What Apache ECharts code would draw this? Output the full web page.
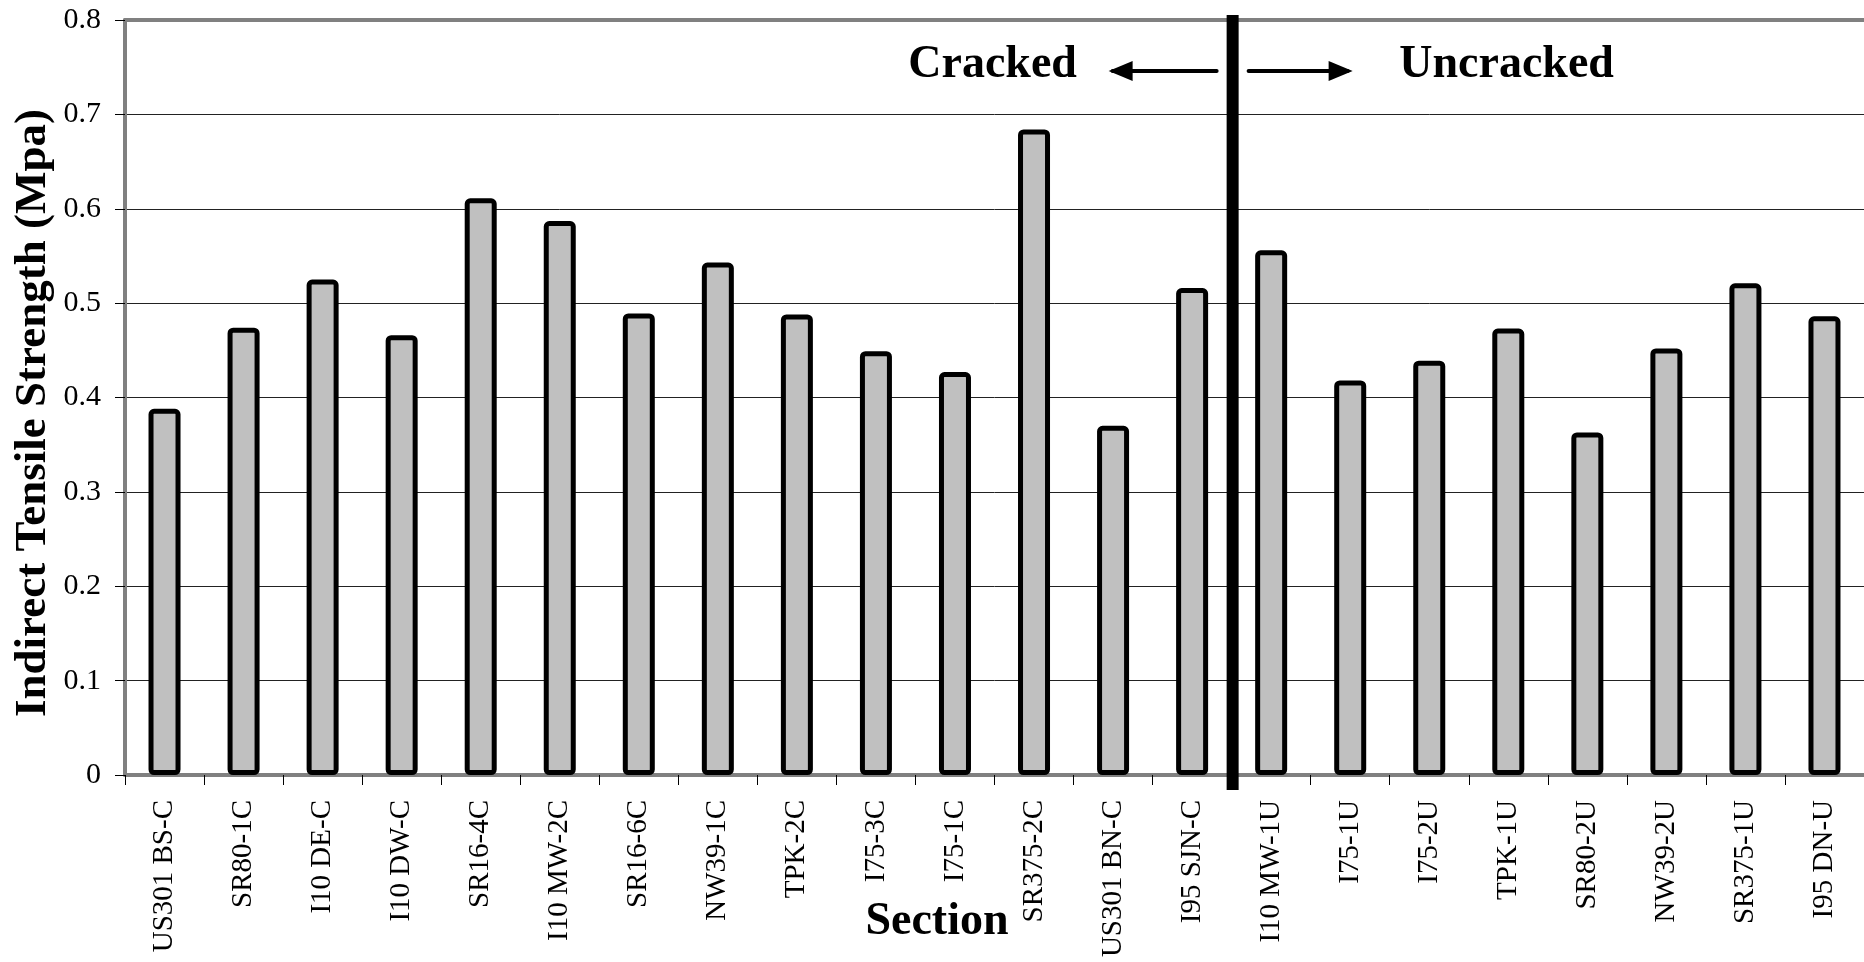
<!DOCTYPE html>
<html>
<head>
<meta charset="utf-8">
<title>Indirect Tensile Strength by Section</title>
<script src="https://cdn.jsdelivr.net/npm/echarts@6/dist/echarts.min.js"></script>
<style>
  html, body { margin: 0; padding: 0; background: #ffffff; }
  #chart { width: 1864px; height: 962px; }
</style>
</head>
<body>
<div id="chart"></div>
<script>
// Test sections: the first 14 are cracked pavements, the rest uncracked
const sections = [
  'US301 BS-C', 'SR80-1C', 'I10 DE-C', 'I10 DW-C', 'SR16-4C', 'I10 MW-2C',
  'SR16-6C', 'NW39-1C', 'TPK-2C', 'I75-3C', 'I75-1C', 'SR375-2C',
  'US301 BN-C', 'I95 SJN-C',
  'I10 MW-1U', 'I75-1U', 'I75-2U', 'TPK-1U', 'SR80-2U', 'NW39-2U',
  'SR375-1U', 'I95 DN-U'
];

// Indirect tensile strength, MPa
const strength = [
  0.388, 0.474, 0.525, 0.466, 0.611, 0.587,
  0.489, 0.543, 0.488, 0.449, 0.427, 0.684,
  0.370, 0.516,
  0.556, 0.418, 0.439, 0.473, 0.363, 0.452,
  0.521, 0.486
];

const crackedCount = 14;
const groupLabels = ['Cracked', 'Uncracked'];
const xTitle = 'Section';
const yTitle = 'Indirect Tensile Strength (Mpa)';

const serif = '"Liberation Serif", "Times New Roman", serif';
const frameGray = '#808080';

const chart = echarts.init(document.getElementById('chart'), null, { renderer: 'canvas' });

chart.setOption({
  backgroundColor: '#ffffff',
  animation: false,
  grid: { left: 125, top: 20, width: 1744, height: 755, containLabel: false },
  xAxis: [
    {
      type: 'category',
      data: sections,
      position: 'bottom',
      boundaryGap: true,
      axisLine: { show: true, lineStyle: { color: frameGray, width: 4 } },
      axisTick: { show: true, length: 10, lineStyle: { color: '#000', width: 1 } },
      axisLabel: {
        interval: 0, rotate: 90, margin: 25,
        fontFamily: serif, fontSize: 29, color: '#000'
      },
      splitLine: { show: false }
    },
    {
      // top frame edge
      type: 'category',
      data: sections,
      position: 'top',
      axisLine: { show: true, lineStyle: { color: frameGray, width: 4 } },
      axisTick: { show: false },
      axisLabel: { show: false },
      splitLine: { show: false }
    }
  ],
  yAxis: {
    type: 'value',
    min: 0,
    max: 0.8,
    interval: 0.1,
    axisLine: { show: true, lineStyle: { color: frameGray, width: 4 } },
    axisTick: { show: true, length: 10, lineStyle: { color: '#000', width: 1 } },
    axisLabel: {
      margin: 24, fontFamily: serif, fontSize: 30, color: '#000',
      formatter: v => (v === 0 ? '0' : v.toFixed(1))
    },
    splitLine: {
      show: true, showMinLine: false, showMaxLine: false,
      lineStyle: { color: '#222', width: 1 }
    }
  },
  series: [{
    type: 'bar',
    xAxisIndex: 0,
    data: strength,
    barWidth: 32,
    itemStyle: {
      color: '#c0c0c0',
      borderColor: '#000',
      borderWidth: 5,
      borderRadius: 3
    },
    emphasis: { disabled: true }
  }]
});

// Divider between cracked and uncracked groups, placed from the category axis
const xLeft = chart.convertToPixel({ xAxisIndex: 0 }, crackedCount - 1);
const xRight = chart.convertToPixel({ xAxisIndex: 0 }, crackedCount);
const sx = (xLeft + xRight) / 2 + 1;

const arrowY = 71;
const headLen = 24, headHalf = 10;

chart.setOption({
  graphic: [
    {
      type: 'line', z: 100,
      shape: { x1: sx, y1: 15, x2: sx, y2: 790 },
      style: { stroke: '#000', lineWidth: 12 }
    },
    // left arrow
    {
      type: 'line', z: 100,
      shape: { x1: sx - 16, y1: arrowY, x2: sx - 120, y2: arrowY },
      style: { stroke: '#000', lineWidth: 4, lineCap: 'round' }
    },
    {
      type: 'polygon', z: 100,
      shape: { points: [[sx - 124, arrowY], [sx - 124 + headLen, arrowY - headHalf], [sx - 124 + headLen, arrowY + headHalf]] },
      style: { fill: '#000' }
    },
    // right arrow
    {
      type: 'line', z: 100,
      shape: { x1: sx + 16, y1: arrowY, x2: sx + 115, y2: arrowY },
      style: { stroke: '#000', lineWidth: 4, lineCap: 'round' }
    },
    {
      type: 'polygon', z: 100,
      shape: { points: [[sx + 120, arrowY], [sx + 120 - headLen, arrowY - headHalf], [sx + 120 - headLen, arrowY + headHalf]] },
      style: { fill: '#000' }
    },
    {
      type: 'text', z: 100, x: sx - 240, y: 65,
      style: {
        text: groupLabels[0], fill: '#000', font: 'bold 46px ' + serif,
        textAlign: 'center', textVerticalAlign: 'middle'
      }
    },
    {
      type: 'text', z: 100, x: sx + 274, y: 65,
      style: {
        text: groupLabels[1], fill: '#000', font: 'bold 46px ' + serif,
        textAlign: 'center', textVerticalAlign: 'middle'
      }
    },
    {
      type: 'text', z: 100, x: 937, y: 922,
      style: {
        text: xTitle, fill: '#000', font: 'bold 46px ' + serif,
        textAlign: 'center', textVerticalAlign: 'middle'
      }
    },
    {
      type: 'text', z: 100, x: 33, y: 413, rotation: Math.PI / 2,
      style: {
        text: yTitle, fill: '#000', font: 'bold 45px ' + serif,
        textAlign: 'center', textVerticalAlign: 'middle'
      }
    }
  ]
});
</script>
</body>
</html>
